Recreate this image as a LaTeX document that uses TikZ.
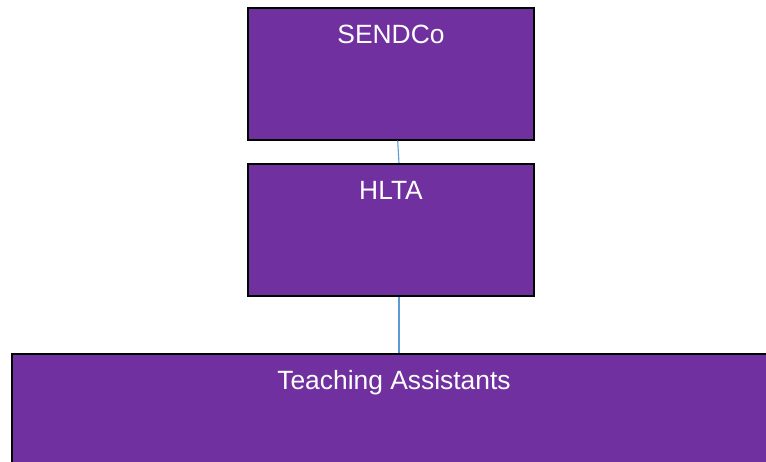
\documentclass[tikz,border=0pt]{standalone}
\usepackage{fontspec}
\setmainfont{Liberation Sans}
\usetikzlibrary{positioning}

\definecolor{rolepurple}{HTML}{7030A0}
\definecolor{linkblue}{HTML}{5B9BD5}

\begin{document}
\begin{tikzpicture}[font=\fontsize{19.8}{24}\selectfont,
  role/.style={draw=black, line width=1.2pt, fill=rolepurple, text=white, inner sep=0pt,
    minimum width=214.5pt, text height=27pt, text depth=72pt, anchor=north},
  link/.style={draw=linkblue, line width=0.8pt},
  node distance=16.8pt,
]

\useasboundingbox (0,0) rectangle (574.5pt,-345.75pt);
\clip (0,0) rectangle (574.5pt,-345.75pt);

\node[role] (sendco) at (293.25pt,-5.25pt) {SENDCo};
\node[role, below=of sendco] (hlta) {HLTA};
\node[role, below=42.3pt of hlta, xshift=2.25pt, minimum width=573pt] (assistants) {Teaching Assistants};

\draw[link] ([xshift=5pt]sendco.south) -- ([xshift=6pt]hlta.north);
\draw[link] ([xshift=6pt]hlta.south) -- ([xshift=3.75pt]assistants.north);

\end{tikzpicture}
\end{document}
